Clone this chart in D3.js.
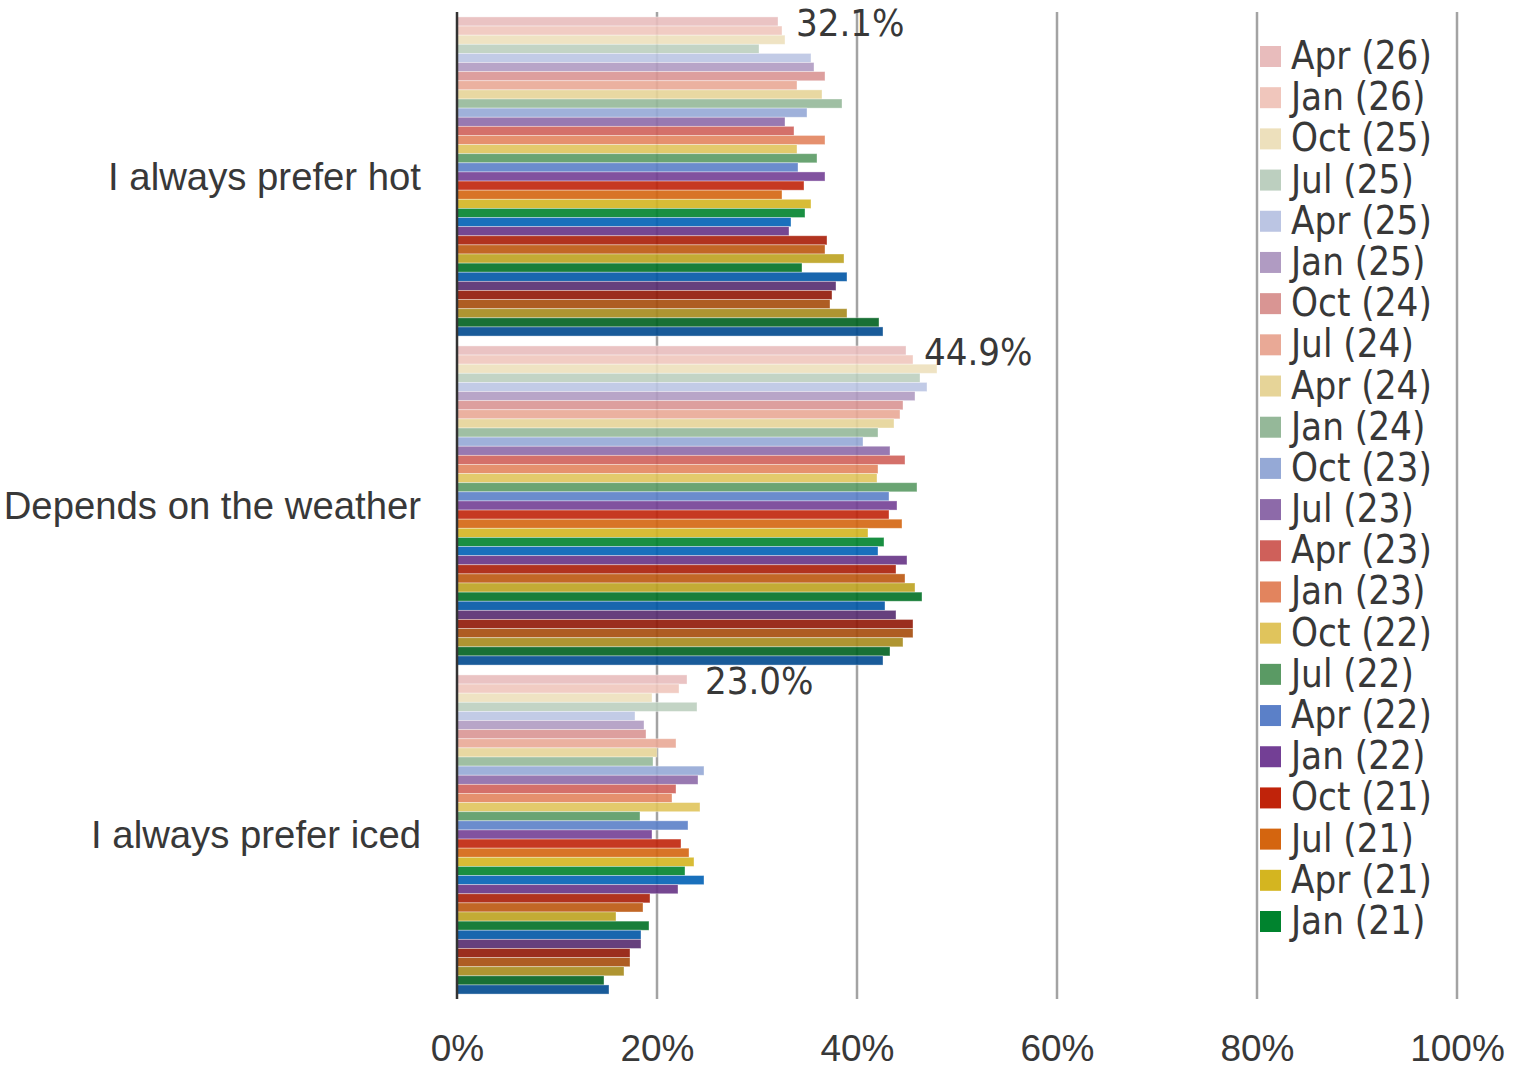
<!DOCTYPE html>
<html>
<head>
<meta charset="utf-8">
<script src="https://cdn.jsdelivr.net/npm/d3@7"></script>
<style>
  html, body { margin: 0; padding: 0; background: #fff; }
  svg { display: block; font-family: "DejaVu Sans Condensed", "Liberation Sans", sans-serif; font-stretch: condensed; }
</style>
</head>
<body>
<svg id="chart" width="1525" height="1069"></svg>
<script>
const categories = ["I always prefer hot", "Depends on the weather", "I always prefer iced"];

const seriesNames = [
  "Apr (26)", "Jan (26)", "Oct (25)", "Jul (25)", "Apr (25)", "Jan (25)",
  "Oct (24)", "Jul (24)", "Apr (24)", "Jan (24)", "Oct (23)", "Jul (23)",
  "Apr (23)", "Jan (23)", "Oct (22)", "Jul (22)", "Apr (22)", "Jan (22)",
  "Oct (21)", "Jul (21)", "Apr (21)", "Jan (21)", "Oct (20)", "Jul (20)",
  "Apr (20)", "Jan (20)", "Oct (19)", "Jul (19)", "Apr (19)", "Jan (19)",
  "Oct (18)", "Jul (18)", "Apr (18)", "Jan (18)", "Oct (17)"
];

const seriesColors = [
  "#e8bcbc", "#f0c6bc", "#ede0bc", "#bccfbf", "#bbc5e3", "#b09bc2",
  "#d99593", "#e9a996", "#e6d498", "#95b899", "#95a9d6", "#8d6aa9",
  "#cf605a", "#e2845e", "#e0c45c", "#5a9a64", "#5b80c8", "#733f95",
  "#c0230a", "#d4650f", "#d4b520", "#00832e", "#0060b5", "#663385",
  "#a91d07", "#bb570e", "#bda21f", "#007025", "#0055a5", "#552b6f",
  "#901705", "#a54b0b", "#a6891c", "#00611f", "#00498e"
];

const hotValues = [32.1, 32.5, 32.8, 30.2, 35.4, 35.7, 36.8, 34.0, 36.5, 38.5, 35.0, 32.8, 33.7, 36.8, 34.0, 36.0, 34.1, 36.8, 34.7, 32.5, 35.4, 34.8, 33.4, 33.2, 37.0, 36.8, 38.7, 34.5, 39.0, 37.9, 37.5, 37.3, 39.0, 42.2, 42.6];
const weatherValues = [44.9, 45.6, 48.0, 46.3, 47.0, 45.8, 44.6, 44.3, 43.7, 42.1, 40.6, 43.3, 44.8, 42.1, 42.0, 46.0, 43.2, 44.0, 43.2, 44.5, 41.1, 42.7, 42.1, 45.0, 43.9, 44.8, 45.8, 46.5, 42.8, 43.9, 45.6, 45.6, 44.6, 43.3, 42.6];
const icedValues = [23.0, 22.2, 19.5, 24.0, 17.8, 18.7, 18.9, 21.9, 20.0, 19.6, 24.7, 24.1, 21.9, 21.5, 24.3, 18.3, 23.1, 19.5, 22.4, 23.2, 23.7, 22.8, 24.7, 22.1, 19.3, 18.6, 15.9, 19.2, 18.4, 18.4, 17.3, 17.3, 16.7, 14.7, 15.2];

const xTicks = [0, 0.2, 0.4, 0.6, 0.8, 1.0];
const legendCount = 22;          // legend is clipped after Jan (21)
const labelledSeries = "Apr (26)";

const valuesByCategory = [hotValues, weatherValues, icedValues];
const rows = [];
categories.forEach((c, ci) => {
  seriesNames.forEach((s, si) => {
    rows.push({ category: c, series: s, color: seriesColors[si], value: valuesByCategory[ci][si] / 100 });
  });
});

const svg = d3.select("#chart");
const textColor = "#383838";

const plot = { left: 457, right: 1457, top: 12, bottom: 999 };

const x = d3.scaleLinear().domain([0, 1]).range([plot.left, plot.right]);
const y0 = d3.scaleBand().domain(categories).range([plot.top, plot.bottom])
  .paddingInner(0.03).paddingOuter(0.015);
const y1 = d3.scaleBand().domain(seriesNames).range([0, y0.bandwidth()]).padding(0);

// gridlines
svg.append("g").selectAll("line").data(xTicks.slice(1)).join("line")
  .attr("x1", d => x(d)).attr("x2", d => x(d))
  .attr("y1", plot.top).attr("y2", plot.bottom)
  .attr("stroke", "#a3a3a3").attr("stroke-width", 2.5);

// bars
svg.append("g").selectAll("rect").data(rows).join("rect")
  .attr("x", x(0))
  .attr("y", d => y0(d.category) + y1(d.series))
  .attr("width", d => x(d.value) - x(0))
  .attr("height", y1.bandwidth())
  .attr("fill", d => d.color)
  .attr("fill-opacity", 0.9)
  .attr("stroke", "#ffffff")
  .attr("stroke-opacity", 0.45)
  .attr("stroke-width", 0.8);

// value axis line
svg.append("line")
  .attr("x1", x(0)).attr("x2", x(0))
  .attr("y1", plot.top).attr("y2", plot.bottom)
  .attr("stroke", "#333").attr("stroke-width", 2.5);

// x tick labels
const xAxis = d3.axisBottom(x).tickValues(xTicks).tickFormat(d3.format(".0%")).tickSize(0).tickPadding(0);
const gx = svg.append("g").attr("transform", `translate(0,${plot.bottom})`).call(xAxis);
gx.select(".domain").remove();
gx.selectAll("text")
  .attr("y", 62).attr("dy", null)
  .attr("fill", textColor)
  .style("font-size", "37px");

// category labels
const yAxis = d3.axisLeft(y0).tickSize(0).tickPadding(36);
const gy = svg.append("g").attr("transform", `translate(${plot.left},0)`).call(yAxis);
gy.select(".domain").remove();
gy.selectAll("text")
  .attr("dy", "0.34em")
  .attr("fill", textColor)
  .style("font-size", "38.3px");

// data labels for latest wave
const fmt = d3.format(".1%");
svg.append("g").selectAll("text").data(rows.filter(r => r.series === labelledSeries)).join("text")
  .attr("x", d => x(d.value) + 18)
  .attr("y", d => y0(d.category) + y1(d.series) + y1.bandwidth() / 2 + 14.5)
  .attr("fill", textColor)
  .style("font-size", "38px")
  .text(d => fmt(d.value));

// legend
const legendY = d3.scaleLinear().domain([0, legendCount - 1]).range([56.5, 921.5]);
const lg = svg.append("g").selectAll("g").data(seriesNames.slice(0, legendCount)).join("g")
  .attr("transform", (d, i) => `translate(1260,${legendY(i)})`);
lg.append("rect")
  .attr("x", 0).attr("y", -10.5).attr("width", 21).attr("height", 21)
  .attr("fill", (d, i) => seriesColors[i]);
lg.append("text")
  .attr("x", 31).attr("y", 12.5)
  .attr("fill", textColor)
  .style("font-size", "38.2px")
  .text(d => d);
</script>
</body>
</html>
